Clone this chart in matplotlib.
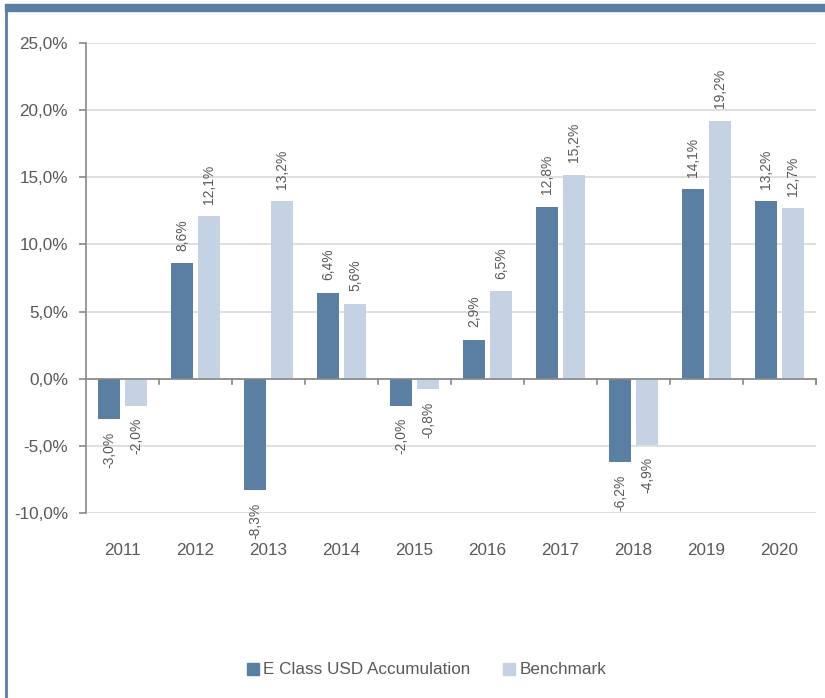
import matplotlib
matplotlib.use("Agg")
import matplotlib.pyplot as plt
from matplotlib.patches import Rectangle
from matplotlib.lines import Line2D
import numpy as np

years = ["2011", "2012", "2013", "2014", "2015", "2016", "2017", "2018", "2019", "2020"]
fund = [-3.0, 8.6, -8.3, 6.4, -2.0, 2.9, 12.8, -6.2, 14.1, 13.2]
bench = [-2.0, 12.1, 13.2, 5.6, -0.8, 6.5, 15.2, -4.9, 19.2, 12.7]
series_names = ["E Class USD Accumulation", "Benchmark"]
yticks = [-10, -5, 0, 5, 10, 15, 20, 25]

plt.rcParams['font.family'] = ['Liberation Sans', 'DejaVu Sans']
DARK = "#5b7fa3"
LIGHT = "#c5d2e4"
TXT = "#595959"
SPINE = "#888888"

fig = plt.figure(figsize=(8.25, 6.98), dpi=100)
ax = fig.add_axes([86/825, 1-513/698, (816-86)/825, (513-43)/698])

x = np.arange(len(years))
w = 0.30
off = 0.185
b1 = ax.bar(x - off, fund, width=w, color=DARK, zorder=3)
b2 = ax.bar(x + off, bench, width=w, color=LIGHT, zorder=3)

def fmt(v):
    return f"{v:.1f}%".replace(".", ",")

for bars, vals in ((b1, fund), (b2, bench)):
    for rect, v in zip(bars, vals):
        cx = rect.get_x() + rect.get_width() / 2
        if v >= 0:
            ax.annotate(fmt(v), (cx, v), xytext=(0, 9), textcoords="offset points",
                        rotation=90, ha="center", va="bottom", fontsize=10, color=TXT)
        else:
            ax.annotate(fmt(v), (cx, v), xytext=(0, -9), textcoords="offset points",
                        rotation=90, ha="center", va="top", fontsize=10, color=TXT)

ax.set_xlim(-0.5, len(years) - 0.5)
ax.set_ylim(-10, 25)
ax.set_yticks(yticks)
ax.set_yticklabels([f"{t:.1f}%".replace(".", ",") for t in yticks])
ax.yaxis.grid(True, color="#d9d9d9", linewidth=1.2, zorder=0)
ax.set_axisbelow(True)

for s in ("top", "right", "bottom"):
    ax.spines[s].set_visible(False)
ax.spines["left"].set_color(SPINE)
ax.spines["left"].set_linewidth(1.2)
ax.tick_params(axis="y", colors=SPINE, labelcolor=TXT, labelsize=12.3, length=5, width=1.2, pad=8)

# x axis at zero
ax.axhline(0, color=SPINE, linewidth=1.2, zorder=4)
ax.set_xticks([])
for b in np.arange(0.5, len(years) - 0.4, 1.0):
    ax.plot([b, b], [0, -0.37], color=SPINE, linewidth=1.2, zorder=4, clip_on=False)
ax.plot([len(years) - 0.5] * 2, [0, -0.37], color=SPINE, linewidth=1.2, zorder=4, clip_on=False)
for i, yr in enumerate(years):
    ax.text(i, -12.8, yr, ha="center", va="center", fontsize=12.3, color=TXT, clip_on=False)

# legend
h1 = Rectangle((0, 0), 1, 1, color=DARK)
h2 = Rectangle((0, 0), 1, 1, color=LIGHT)
leg = fig.legend([h1, h2], series_names, loc="center", bbox_to_anchor=(0.517, 1-670/698),
                 ncol=2, frameon=False, fontsize=12.3, handlelength=0.7, handleheight=0.7,
                 handletextpad=0.25, columnspacing=1.9)
for t in leg.get_texts():
    t.set_color(TXT)

# frame decorations
fig.patches.append(Rectangle((5/825, 1-11/698), 820/825, 7/698, transform=fig.transFigure,
                             color=DARK, zorder=10))
fig.lines.append(Line2D([6/825, 6/825], [0, 1-11/698], transform=fig.transFigure,
                        color=DARK, linewidth=2, zorder=10))

fig.savefig("out.png", dpi=100)
